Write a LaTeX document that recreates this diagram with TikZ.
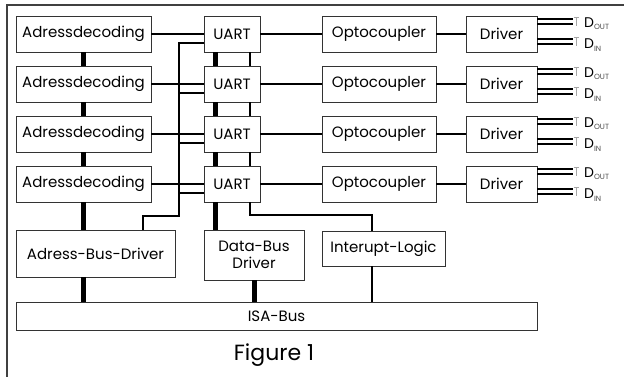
\documentclass[tikz,border=0pt]{standalone}
\usepackage{fontspec}
\setmainfont{Poppins}
\usetikzlibrary{positioning,calc}
\tikzset{
  unit/.style={draw=black!80, line width=0.9pt, fill=white, inner sep=0pt,
    font=\fontsize{15}{17}\selectfont, align=center},
  bus/.style={line width=5pt},
  sig/.style={line width=2.8pt},
  thin link/.style={line width=2.1pt},
  pin/.style={line width=1.7pt},
}
\newcommand{\subtxt}[1]{\raisebox{-2.5pt}{\fontsize{7.5}{8}\selectfont\color{black!70}#1}}
\begin{document}
\begin{tikzpicture}[x=1pt,y=-1pt]
  \useasboundingbox (0,0) rectangle (624,376);
  % outer frame (cut at right and bottom)
  \draw[black!75, line width=1.2pt] (7,380) -- (7,5) -- (630,5);
  % four channels
  \foreach \i/\y in {1/34,2/84,3/134,4/184}{
    \node[unit, minimum width=135, minimum height=36] (ad\i) at (83.5,\y) {Adressdecoding};
    \node[unit, minimum width=56, minimum height=36] (uart\i) at (232,\y) {UART};
    \node[unit, minimum width=114, minimum height=36] (opto\i) at (379,\y) {Optocoupler};
    \node[unit, minimum width=71, minimum height=36] (drv\i) at (501.5,\y) {Driver};
    \coordinate (ub\i) at ([yshift=-9pt]uart\i.west);
    \draw[sig] (ad\i) -- (uart\i);
    \draw[sig] (uart\i) -- (opto\i);
    \draw[sig] (opto\i) -- (drv\i);
    % outputs
    \draw[pin] ([yshift=15pt]drv\i.east) -- ++(36,0);
    \draw[pin] ([yshift=10pt]drv\i.east) -- ++(36,0);
    \draw[pin] ([yshift=-5pt]drv\i.east) -- ++(36,0);
    \draw[pin] ([yshift=-10pt]drv\i.east) -- ++(36,0);
    \draw[black!35, line width=0.6pt] (574,\y-17) -- (579,\y-17) (576.5,\y-17) -- (576.5,\y-8);
    \draw[black!35, line width=0.6pt] (574,\y+3) -- (579,\y+3) (576.5,\y+3) -- (576.5,\y+12);
    \node[anchor=west, inner sep=0pt, font=\fontsize{14}{16}\selectfont] (out\i) at (584,\y-10.5) {D\subtxt{OUT}};
    \node[anchor=west, inner sep=0pt, font=\fontsize{14}{16}\selectfont] (in\i) at (584,\y+11) {D\subtxt{IN}};
  }
  % lower units
  \node[unit, minimum width=159, minimum height=47] (abd) at (95.5,253.5) {Adress-Bus-Driver};
  \node[unit, minimum width=100, minimum height=50] (dbd) at (254,255) {Data-Bus\\Driver};
  \node[unit, minimum width=123, minimum height=35] (irq) at (383.5,248.5) {Interupt-Logic};
  \node[unit, minimum width=521, minimum height=28] (isa) at (276.5,316) {ISA-Bus};
  \node[font=\fontsize{22}{26}\selectfont] (fig) at (274,355) {Figure 1};
  % address decoding chain
  \foreach \i/\j in {1/2,2/3,3/4}{
    \draw[bus] (ad\i) -- (ad\j);
    \draw[bus] ([xshift=-17pt]uart\i.south) -- ([xshift=-17pt]uart\j.north);
    \draw[thin link] ([xshift=18pt]uart\i.south) -- ([xshift=18pt]uart\j.north);
  }
  \draw[bus] (ad4.south) -- (ad4.south |- abd.north);
  \draw[bus] (ad4.south |- abd.south) -- (ad4.south |- isa.north);
  % address lines to the UARTs
  \coordinate (abus) at (179,216);
  \coordinate (abdtap) at (143,230);
  \draw[sig] (ub1) -| (abus) -| (abdtap);
  \foreach \i in {2,3,4}
    \draw[sig] (ub\i) -- (ub\i -| abus);
  % data bus
  \draw[bus] ([xshift=-17pt]uart4.south) -- ([xshift=-17pt]uart4.south |- dbd.north);
  \draw[bus] (dbd.south) -- (dbd.south |- isa.north);
  % interrupt line
  \coordinate (irqtap) at (372,231);
  \draw[thin link] ([xshift=18pt]uart4.south) |- (0,215 -| irqtap) -- (irqtap);
  \draw[sig] (irqtap |- irq.south) -- (irqtap |- isa.north);
\end{tikzpicture}
\end{document}
